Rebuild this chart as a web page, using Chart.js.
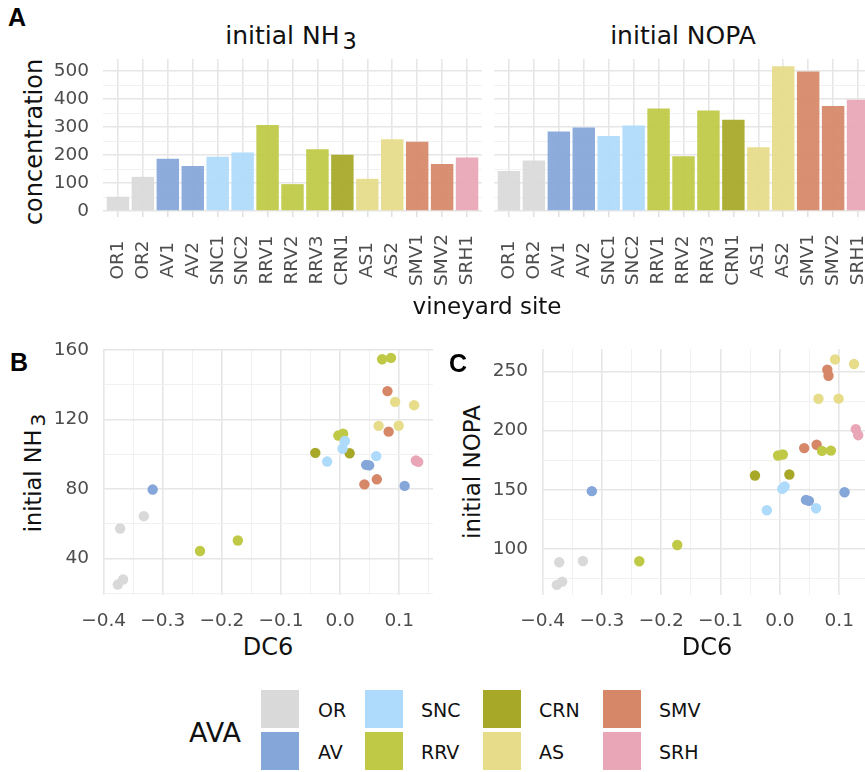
<!DOCTYPE html>
<html>
<head>
<meta charset="utf-8">
<script src="https://cdn.jsdelivr.net/npm/chart.js@4.4.0/dist/chart.umd.min.js"></script>
<style>
  body { margin: 0; width: 865px; height: 772px; overflow: hidden; position: relative; background: #fff; font-family: 'DejaVu Sans', sans-serif; color: #111; }
  canvas { position: absolute; }
  .txt { position: absolute; line-height: 1; white-space: nowrap; }
  .ctr { transform: translateX(-50%); }
  .rot { transform: translate(-50%, -50%) rotate(-90deg); }
  .tag { position: absolute; line-height: 1; font-family: 'Liberation Sans', Arial, sans-serif; font-weight: bold; font-size: 25px; color: #000; }
  .sw { position: absolute; width: 38px; height: 38px; }
  .lab { position: absolute; line-height: 1; font-size: 19px; }
  sub { font-size: 0.9em; vertical-align: baseline; position: relative; top: 0.2em; margin-left: 3px; }
</style>
</head>
<body>
<div class="tag" style="left:8px;top:5px">A</div>
<div class="txt ctr" style="left:291px;top:23px;font-size:25px">initial NH<sub>3</sub></div>
<div class="txt ctr" style="left:683px;top:23px;font-size:25px">initial NOPA</div>
<div class="txt rot" style="left:34px;top:142px;font-size:24px">concentration</div>
<canvas id="barNH3" width="444" height="255" style="left:48px;top:45px"></canvas>
<canvas id="barNOPA" width="399" height="255" style="left:484px;top:45px"></canvas>
<div class="txt ctr" style="left:487px;top:295px;font-size:23px">vineyard site</div>

<div class="tag" style="left:10px;top:350px">B</div>
<div class="txt rot" style="left:33px;top:473px;font-size:22.5px">initial NH<sub>3</sub></div>
<canvas id="scatNH3" width="397" height="302" style="left:48px;top:330px"></canvas>
<div class="txt ctr" style="left:268px;top:635px;font-size:24px">DC6</div>

<div class="tag" style="left:449px;top:351px">C</div>
<div class="txt rot" style="left:472px;top:472px;font-size:23px">initial NOPA</div>
<canvas id="scatNOPA" width="395" height="302" style="left:490px;top:330px"></canvas>
<div class="txt ctr" style="left:707px;top:635px;font-size:24px">DC6</div>

<div id="legend"></div>

<script>
// vineyard sites and their AVA
const sites = ['OR1', 'OR2', 'AV1', 'AV2', 'SNC1', 'SNC2', 'RRV1', 'RRV2', 'RRV3', 'CRN1', 'AS1', 'AS2', 'SMV1', 'SMV2', 'SRH1'];
const siteAva = ['OR', 'OR', 'AV', 'AV', 'SNC', 'SNC', 'RRV', 'RRV', 'RRV', 'CRN', 'AS', 'AS', 'SMV', 'SMV', 'SRH'];
const nh3Conc = [51, 122, 187, 161, 194, 209, 307, 96, 221, 201, 115, 256, 247, 168, 191];
const nopaConc = [143, 180, 284, 298, 268, 305, 366, 196, 359, 326, 228, 517, 498, 375, 397];

const avaNames = ['OR', 'AV', 'SNC', 'RRV', 'CRN', 'AS', 'SMV', 'SRH'];
const avaColors = ['#d9d9d9', '#85a6d9', '#aedbfb', '#bfc945', '#a7a828', '#e6dc8a', '#d68768', '#e8a6b6'];

// per-sample DC6 score vs initial NH3 / NOPA
const sampleAva = ['OR', 'OR', 'OR', 'OR', 'AV', 'AV', 'AV', 'AV', 'SNC', 'SNC', 'SNC', 'SNC',
  'RRV', 'RRV', 'RRV', 'RRV', 'RRV', 'RRV', 'CRN', 'CRN', 'AS', 'AS', 'AS', 'AS', 'SMV', 'SMV', 'SMV', 'SMV', 'SRH', 'SRH'];
const sampleDC6 = [-0.376, -0.367, -0.372, -0.332, -0.317, 0.044, 0.049, 0.109, -0.022, 0.004, 0.008, 0.061,
  -0.237, -0.173, -0.003, 0.005, 0.071, 0.086, -0.042, 0.016, 0.065, 0.099, 0.093, 0.125, 0.080, 0.082, 0.041, 0.062, 0.128, 0.132];
const sampleNH3 = [25.1, 28.0, 57.3, 64.4, 79.7, 93.9, 93.6, 81.8, 95.8, 103.2, 107.6, 98.9,
  44.4, 50.4, 110.8, 111.8, 154.6, 155.4, 100.8, 100.6, 116.3, 116.4, 130.1, 128.2, 136.3, 113.0, 82.7, 85.6, 96.4, 95.6];
const sampleNOPA = [69.9, 72.7, 89.0, 90.1, 149.0, 141.6, 140.8, 148.1, 132.9, 150.9, 152.9, 134.6,
  89.9, 103.6, 179.1, 179.9, 183.0, 183.2, 162.2, 163.0, 226.9, 227.0, 260.1, 256.2, 251.4, 246.3, 185.3, 188.1, 201.3, 196.2];

// tick labels
const concTicks = [0, 100, 200, 300, 400, 500];
const dc6Ticks = [-0.4, -0.3, -0.2, -0.1, 0, 0.1];
const nh3Ticks = [40, 80, 120, 160];
const nopaTicks = [100, 150, 200, 250];

Chart.defaults.font.family = "'DejaVu Sans', sans-serif";
Chart.defaults.color = '#4d4d4d';

const tickFont = { size: 18.5 };
const GRID_MAJOR = '#e6e6e6';
const GRID_MINOR = '#efefef';

const colorOf = (a) => avaColors[avaNames.indexOf(a)];

function gridStyle() {
  return {
    color: (c) => (c.tick && c.tick.minor ? GRID_MINOR : GRID_MAJOR),
    lineWidth: (c) => (c.tick && c.tick.minor ? 0.9 : 1.6),
  };
}

// major ticks plus the half-way minor ticks that fall inside the range
function withMinor(major, min, max) {
  const half = (major[1] - major[0]) / 2;
  const ticks = major.filter((v) => v >= min && v <= max).map((v) => ({ value: v }));
  [major[0] - half, ...major.map((v) => v + half)].forEach((v) => {
    const r = Math.round(v * 1e4) / 1e4;
    if (r >= min && r <= max) ticks.push({ value: r, minor: true });
  });
  return ticks.sort((a, b) => a.value - b.value);
}

// fixed axis size, no extra label padding
function fixAxis(size, key) {
  return (s) => {
    s[key] = size;
    s.paddingLeft = s.paddingRight = s.paddingTop = s.paddingBottom = 0;
  };
}

function fmtDC6(v) {
  if (Math.abs(v) < 1e-9) return '0.0';
  return (v < 0 ? '\u2212' : '') + Math.abs(v).toFixed(1);
}

// site names under the bars, rotated and centred on a common line
const siteLabels = {
  id: 'siteLabels',
  afterDraw(chart) {
    const { ctx } = chart;
    const x = chart.scales.x;
    ctx.save();
    ctx.font = "18.5px 'DejaVu Sans', sans-serif";
    ctx.fillStyle = '#4d4d4d';
    ctx.textAlign = 'center';
    ctx.textBaseline = 'middle';
    sites.forEach((s, i) => {
      ctx.save();
      ctx.translate(x.getPixelForValue(i), x.top + 49);
      ctx.rotate(-Math.PI / 2);
      ctx.fillText(s, 0, 0);
      ctx.restore();
    });
    ctx.restore();
  },
};

const noInteraction = {
  responsive: false,
  animation: false,
  events: [],
};

function barChart(id, values, showY) {
  return new Chart(document.getElementById(id), {
    type: 'bar',
    data: {
      datasets: [{
        data: values.map((v, i) => ({ x: i, y: v })),
        backgroundColor: siteAva.map((a) => colorOf(a) + 'ee'),
        barPercentage: 0.9,
        categoryPercentage: 1,
      }],
    },
    plugins: [siteLabels],
    options: {
      ...noInteraction,
      layout: { padding: { top: 14, right: 10, bottom: 0, left: 0 } },
      plugins: { legend: { display: false }, tooltip: { enabled: false } },
      scales: {
        x: {
          type: 'linear',
          min: -0.6,
          max: sites.length - 0.4,
          offset: false,
          afterBuildTicks: (s) => { s.ticks = sites.map((_, i) => ({ value: i })); },
          afterFit: fixAxis(89, 'height'),
          border: { display: false },
          grid: { offset: false, color: GRID_MAJOR, lineWidth: 1.6, tickLength: 6, tickColor: '#dcdcdc', tickWidth: 1.3 },
          ticks: { display: false },
        },
        y: {
          min: 0,
          max: 543,
          afterBuildTicks: (s) => { s.ticks = withMinor(concTicks, 0, 543); },
          afterFit: fixAxis(showY ? 55 : 10, 'width'),
          border: { display: false },
          grid: { ...gridStyle(), drawTicks: false },
          ticks: { display: showY, autoSkip: false, padding: 14, font: tickFont, callback: (v, i, t) => (t[i].minor ? '' : v) },
        },
      },
    },
  });
}

function scatterChart(id, yVals, yMajor, yMin, yMax, yAxisW) {
  return new Chart(document.getElementById(id), {
    type: 'scatter',
    data: {
      datasets: avaNames.map((a, k) => ({
        data: sampleAva.map((s, i) => (s === a ? { x: sampleDC6[i], y: yVals[i] } : null)).filter(Boolean),
        backgroundColor: avaColors[k],
        pointRadius: 5.2,
        borderWidth: 0,
      })),
    },
    options: {
      ...noInteraction,
      layout: { padding: { top: 19, right: 12, bottom: 0, left: 0 } },
      plugins: { legend: { display: false }, tooltip: { enabled: false } },
      scales: {
        x: {
          type: 'linear',
          min: -0.401,
          max: 0.157,
          afterBuildTicks: (s) => { s.ticks = withMinor(dc6Ticks, -0.401, 0.157); },
          afterFit: fixAxis(37, 'height'),
          border: { display: false },
          grid: { ...gridStyle(), drawTicks: false },
          ticks: { autoSkip: false, maxRotation: 0, padding: 15, font: tickFont, callback: (v, i, t) => (t[i].minor ? '' : fmtDC6(v)) },
        },
        y: {
          min: yMin,
          max: yMax,
          afterBuildTicks: (s) => { s.ticks = withMinor(yMajor, yMin, yMax); },
          afterFit: fixAxis(yAxisW, 'width'),
          border: { display: false },
          grid: { ...gridStyle(), drawTicks: false },
          ticks: { autoSkip: false, padding: 14, font: tickFont, callback: (v, i, t) => (t[i].minor ? '' : v) },
        },
      },
    },
  });
}

barChart('barNH3', nh3Conc, true);
barChart('barNOPA', nopaConc, false);
scatterChart('scatNH3', sampleNH3, nh3Ticks, 19.1, 160.5, 55);
scatterChart('scatNOPA', sampleNOPA, nopaTicks, 61.4, 268.9, 52);

// AVA legend, two rows of keys
const legend = document.getElementById('legend');
const colLeft = [261, 365, 483, 603];
const labLeft = [318, 421, 539, 659];
const rowTop = [689.5, 731.5];
legend.innerHTML = '<div class="txt" style="left:189px;top:719px;font-size:27px">AVA</div>';
avaNames.forEach((a, k) => {
  const col = Math.floor(k / 2);
  const row = k % 2;
  legend.innerHTML +=
    `<div class="sw" style="left:${colLeft[col]}px;top:${rowTop[row]}px;background:${avaColors[k]}"></div>` +
    `<div class="lab" style="left:${labLeft[col]}px;top:${rowTop[row] + 11.5}px">${a}</div>`;
});
</script>
</body>
</html>
